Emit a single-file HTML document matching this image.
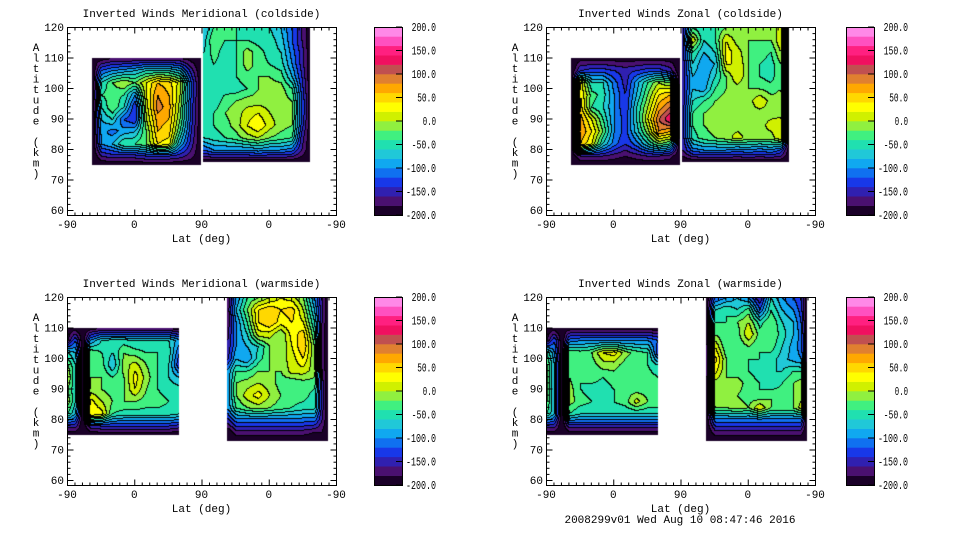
<!DOCTYPE html>
<html><head><meta charset="utf-8"><style>
body{margin:0;background:#fff;width:960px;height:540px;overflow:hidden;position:relative;font-family:"Liberation Mono",monospace;}
canvas{position:absolute;}
svg{position:absolute;left:0;top:0;}
</style></head><body>
<div id="root"></div>
<svg id="svg" width="960" height="540"></svg>
<script>
// ---- data ----
const levelColors = ["#1a0028","#4a1070","#3020b0","#1838e8","#1070f0","#10a8f0","#20c8d8","#20e0b0","#40f080","#90f040","#d0f000","#ffff00","#ffd800","#ffa800","#e08030","#c05050","#f01060","#ff2080","#ff50c0","#ff88e8"];
const colorbarLabels = ["200.0","150.0","100.0","50.0","0.0","-50.0","-100.0","-150.0","-200.0"];
const xTickLabels = ["-90","0","90","0","-90"];
const yTickLabels = ["120","110","100","90","80","70","60"];
const panelTitles = ["Inverted Winds Meridional (coldside)","Inverted Winds Zonal (coldside)","Inverted Winds Meridional (warmside)","Inverted Winds Zonal (warmside)"];

const p1LeftCols = [33,45,60,75,90,105,120,135,150,165,178];
const p1LeftAlts = [110,106,102,98,94,90,86,82,78,75];
const p1LeftVals = [
[-200,-190,-180,-180,-180,-180,-180,-180,-180,-190,-200],
[-200,-120,-100,-90,-80,-60,-60,-60,-80,-150,-200],
[-200,-60,-20,0,-20,20,60,50,10,-120,-200],
[-200,-40,-30,-40,-100,20,80,60,0,-120,-200],
[-200,-60,-20,-60,-140,10,90,70,-10,-130,-200],
[-200,-80,-60,-120,-140,0,70,60,-20,-130,-200],
[-200,-90,-110,-90,-80,-20,60,50,-40,-140,-200],
[-200,-100,-80,-40,-40,-20,40,30,-80,-150,-200],
[-200,-160,-150,-150,-150,-140,-140,-140,-150,-170,-200],
[-200,-200,-200,-200,-200,-200,-200,-200,-200,-200,-200]];
const p1RightCols = [182,195,210,225,240,255,270,285,300,313,325];
const p1RightAlts = [120,116,112,108,104,100,96,92,88,84,80,76];
const p1RightVals = [
[-80,-40,-30,-40,-50,-60,-60,-80,-120,-160,-200],
[-70,-20,-40,-40,-40,-50,-50,-70,-120,-160,-200],
[-60,-30,-50,-40,-10,-30,-50,-60,-110,-150,-200],
[-60,-40,-50,-40,-10,-30,-40,-50,-100,-150,-200],
[-60,-40,-50,-40,-30,-20,-20,-30,-80,-140,-200],
[-50,-50,-50,-50,-40,-20,-10,-10,-40,-130,-200],
[-50,-60,-30,-20,-10,-10,-10,-10,-20,-120,-200],
[-60,-40,-20,-10,10,20,0,-10,-20,-120,-200],
[-60,-40,-30,-10,20,40,10,-10,-20,-130,-200],
[-60,-50,-40,-30,-10,0,-20,-30,-40,-150,-200],
[-120,-100,-100,-100,-100,-90,-100,-100,-110,-160,-200],
[-200,-200,-200,-200,-200,-200,-200,-200,-200,-200,-200]];

const p2LeftVals = [
[-200,-190,-190,-190,-190,-190,-190,-190,-190,-190,-200],
[-200,-140,-130,-130,-140,-150,-140,-130,-130,-150,-200],
[-200,30,-60,-60,-110,-150,-90,-40,0,-20,-200],
[-200,40,-30,-50,-100,-140,-80,-20,40,60,-200],
[-200,50,-40,-60,-100,-140,-60,0,70,100,-200],
[-200,70,20,-40,-100,-130,-60,20,100,140,-200],
[-200,80,40,-20,-100,-130,-70,-10,80,60,-200],
[-200,60,20,-60,-110,-140,-110,-60,-20,-40,-200],
[-200,-160,-160,-160,-170,-180,-170,-160,-160,-170,-200],
[-200,-200,-200,-200,-200,-200,-200,-200,-200,-200,-200]];
const p2RightVals = [
[-150,-40,-60,-40,-20,-20,-20,-20,-20,20,-200],
[-150,20,-60,-40,20,-10,-20,-20,-20,20,-200],
[-150,-40,-80,-60,30,10,-20,-30,-40,0,-200],
[-150,-60,-100,-80,20,20,-20,-40,-50,-20,-200],
[-150,-80,-100,-60,-20,20,-20,-40,-50,-20,-200],
[-150,-80,-90,-40,-20,-10,-20,-20,-30,-20,-200],
[-150,-60,-40,-20,-10,-10,-10,20,-10,-10,-200],
[-150,-40,-20,-10,0,-10,-10,-10,-10,-10,-200],
[-150,-40,-20,-10,-10,-10,-10,-10,10,20,-200],
[-150,-50,-30,-20,-10,10,-10,-10,-10,20,-200],
[-160,-110,-100,-100,-100,-110,-100,-110,-100,-120,-200],
[-200,-200,-200,-200,-200,-200,-200,-200,-200,-200,-200]];

const wLeftCols = [0,10,20,30,45,60,75,90,105,120,135,149];
const wLeftAlts = [110,106,102,98,94,90,86,82,78,75];
const p3LeftVals = [
[-200,-190,-200,-190,-180,-180,-180,-180,-180,-180,-180,-190],
[-180,-120,-200,-100,-60,-50,-50,-60,-60,-60,-60,-90],
[-60,-80,-200,-20,-40,-60,-20,-30,-40,-40,-50,-120],
[-20,-60,-200,-20,-30,-80,-10,10,-20,-40,-60,-140],
[0,-60,-200,-20,-20,-40,-20,30,-10,-40,-60,-80],
[-20,-60,-200,-10,-20,-30,-20,20,-20,-40,-50,-50],
[-10,-60,-200,30,0,-20,-20,-20,-30,-30,-40,-40],
[-40,-80,-200,40,30,-40,-50,-50,-50,-50,-50,-60],
[-150,-150,-200,-150,-140,-140,-140,-140,-140,-140,-140,-150],
[-200,-200,-200,-200,-200,-200,-200,-200,-200,-200,-200,-200]];
const wRightCols = [213,225,240,255,270,285,300,315,330,340,348];
const wRightAlts = [120,116,112,108,104,100,96,92,88,84,80,76,73];
const p3RightVals = [
[-180,-100,-40,-20,0,20,10,-20,-100,-160,-200],
[-180,-80,-20,40,60,40,50,0,-80,-160,-200],
[-180,-100,-40,40,60,30,40,20,-60,-160,-200],
[-170,-100,-60,10,10,-20,30,50,-40,-170,-200],
[-160,-100,-80,-60,-20,-20,20,60,-20,-170,-200],
[-150,-80,-100,-50,-20,-10,10,40,-20,-170,-200],
[-100,-40,-40,-20,-20,-20,10,10,-10,-160,-200],
[-100,-20,-10,0,-10,-30,-40,-30,-30,-150,-200],
[-100,-20,10,30,0,-20,-30,-30,-50,-150,-200],
[-100,-40,-20,-10,-20,-30,-40,-50,-50,-150,-200],
[-150,-110,-110,-110,-110,-110,-110,-110,-110,-160,-200],
[-200,-170,-170,-170,-170,-170,-170,-170,-180,-180,-200],
[-200,-200,-200,-200,-200,-200,-200,-200,-200,-200,-200]];
const p4LeftVals = [
[-200,-190,-200,-190,-190,-190,-190,-190,-190,-190,-190,-190],
[-180,-120,-200,-110,-100,-100,-100,-100,-100,-100,-100,-120],
[-40,-100,-200,-20,-30,-20,20,30,-10,-30,-40,-140],
[-20,-80,-200,-20,-30,-30,-10,-10,-30,-40,-40,-60],
[-20,-80,-200,-20,-40,-30,-40,-30,-40,-40,-30,-40],
[-20,-80,-200,-10,-40,-50,-50,-40,-30,-30,-30,-30],
[-20,-80,-200,-10,-30,-40,-40,-40,-30,10,-20,-20],
[-40,-80,-200,-40,-60,-60,-60,-60,-60,-60,-60,-60],
[-150,-150,-200,-150,-150,-150,-150,-150,-150,-150,-150,-150],
[-200,-200,-200,-200,-200,-200,-200,-200,-200,-200,-200,-200]];
const p4RightVals = [
[-200,-120,-100,-80,-100,-160,-60,-100,-120,-140,-200],
[-200,-60,-40,-60,-30,-120,-40,-80,-100,-130,-200],
[-200,-40,-40,-20,0,-50,-20,-60,-80,-120,-200],
[-200,-20,-40,-30,20,-30,-20,-50,-80,-110,-200],
[-200,20,-40,-40,-20,-40,-30,-60,-90,-110,-200],
[-200,50,-20,-30,-40,-40,-50,-70,-90,-100,-200],
[-200,30,-20,-30,-40,-50,-60,-60,-40,-40,-200],
[-200,-10,-20,-10,-30,-40,-60,-40,-20,-10,-200],
[-200,0,-10,-20,-30,-40,-20,-30,-20,-10,-200],
[-200,-20,-20,-10,-20,20,-20,-20,-20,10,-200],
[-200,-110,-110,-110,-110,-110,-110,-110,-110,-110,-200],
[-200,-170,-170,-170,-170,-170,-170,-170,-170,-170,-200],
[-200,-200,-200,-200,-200,-200,-200,-200,-200,-200,-200]];

const panels = [
 {x0:67,y0:27,cb:374,blocks:[[p1LeftCols,p1LeftAlts,p1LeftVals],[p1RightCols,p1RightAlts,p1RightVals]]},
 {x0:546,y0:27,cb:846,blocks:[[p1LeftCols,p1LeftAlts,p2LeftVals],[p1RightCols,p1RightAlts,p2RightVals]]},
 {x0:67,y0:297,cb:374,blocks:[[wLeftCols,wLeftAlts,p3LeftVals],[wRightCols,wRightAlts,p3RightVals]]},
 {x0:546,y0:297,cb:846,blocks:[[wLeftCols,wLeftAlts,p4LeftVals],[wRightCols,wRightAlts,p4RightVals]]}
];
const PW=269, PH=188, PXKM=3.05;
const NS="http://www.w3.org/2000/svg";
const svg=document.getElementById('svg');
function el(tag,attrs,parent){const e=document.createElementNS(NS,tag);for(const k in attrs)e.setAttribute(k,attrs[k]);(parent||svg).appendChild(e);return e;}
function interp(cols,alts,vals,u,a){
 if(u<cols[0]||u>cols[cols.length-1]||a>alts[0]||a<alts[alts.length-1])return null;
 let i=0;while(i<cols.length-2&&u>cols[i+1])i++;
 let j=0;while(j<alts.length-2&&a<alts[j+1])j++;
 const tx=(u-cols[i])/(cols[i+1]-cols[i]), ty=(alts[j]-a)/(alts[j]-alts[j+1]);
 const v00=vals[j][i],v10=vals[j][i+1],v01=vals[j+1][i],v11=vals[j+1][i+1];
 return (v00*(1-tx)+v10*tx)*(1-ty)+(v01*(1-tx)+v11*tx)*ty;
}
function hex(c){return [parseInt(c.substr(1,2),16),parseInt(c.substr(3,2),16),parseInt(c.substr(5,2),16)];}
const rgb=levelColors.map(hex);
panels.forEach((p,pi)=>{
 const cv=document.createElement('canvas');cv.width=PW;cv.height=PH;
 cv.style.left=p.x0+'px';cv.style.top=p.y0+'px';
 
 
 document.body.insertBefore(cv,svg);
 const ctx=cv.getContext('2d');const img=ctx.createImageData(PW,PH);
 const lev=new Int16Array(PW*PH).fill(-1);
 for(let y=0;y<PH;y++)for(let x=0;x<PW;x++){
  const u=x*360/PW, a=120-y/PXKM;
  let v=null;for(const b of p.blocks){const r=interp(b[0],b[1],b[2],u,a);if(r!==null){v=r;break;}}
  if(v!==null)lev[y*PW+x]=Math.max(0,Math.min(19,Math.floor((v+200)/20)));
 }
 for(let y=0;y<PH;y++)for(let x=0;x<PW;x++){
  const k=y*PW+x,l=lev[k],o=k*4;let c=[255,255,255];
  if(l>=0){c=rgb[l];
   if((x>0&&lev[k-1]>=0&&lev[k-1]!==l)||(y>0&&lev[k-PW]>=0&&lev[k-PW]!==l))c=[0,0,0];}
  img.data[o]=c[0];img.data[o+1]=c[1];img.data[o+2]=c[2];img.data[o+3]=255;
 }
 ctx.putImageData(img,0,0);
 const g=el('g',{});
 el('rect',{x:p.x0+0.5,y:p.y0+0.5,width:PW,height:PH,fill:'none',stroke:'#000',},g);
 const t=el('text',{x:p.x0+PW/2,y:p.y0-10,'font-size':11,'text-anchor':'middle',},g);
 t.textContent=panelTitles[pi];
 for(let d=0;d<=360;d+=10){const xx=p.x0+0.5+d*PW/360;const len=d%90===0?6:3;
  el('line',{x1:xx,y1:p.y0+PH+0.5,x2:xx,y2:p.y0+PH+0.5-len,stroke:'#000'},g);
  el('line',{x1:xx,y1:p.y0+0.5,x2:xx,y2:p.y0+0.5+len,stroke:'#000'},g);}
 xTickLabels.forEach((s,i)=>{const tt=el('text',{x:p.x0+i*PW/4,y:p.y0+PH+13,'font-size':11,'text-anchor':'middle',},g);tt.textContent=s;});
 const xl=el('text',{x:p.x0+PW/2,y:p.y0+PH+27,'font-size':11,'text-anchor':'middle',},g);xl.textContent='Lat (deg)';
 for(let a=60;a<=120;a+=2){const yy=p.y0+0.5+(120-a)*PXKM;const len=a%10===0?6:3;
  el('line',{x1:p.x0+0.5,y1:yy,x2:p.x0+0.5+len,y2:yy,stroke:'#000'},g);
  el('line',{x1:p.x0+PW+0.5,y1:yy,x2:p.x0+PW+0.5-len,y2:yy,stroke:'#000'},g);}
 yTickLabels.forEach((s,i)=>{const tt=el('text',{x:p.x0-3,y:p.y0+i*10*PXKM+4,'font-size':11,'text-anchor':'end',},g);tt.textContent=s;});
 const yt="Altitude (km)";
 for(let i=0;i<yt.length;i++){const tt=el('text',{x:p.x0-31,y:p.y0+24+i*10.5,'font-size':11,'text-anchor':'middle',},g);tt.textContent=yt[i];}
 const cg=el('g',{});
 const bh=PH/20;
 levelColors.forEach((c,i)=>{el('rect',{x:p.cb,y:p.y0+PH-(i+1)*bh,width:28,height:bh+0.3,fill:c,},cg);});
 el('rect',{x:p.cb+0.5,y:p.y0+0.5,width:28,height:PH,fill:'none',stroke:'#000'},cg);
 colorbarLabels.forEach((s,i)=>{const yy=p.y0+i*PH/8;
  el('line',{x1:p.cb+22,y1:yy,x2:p.cb+28,y2:yy,stroke:'#000'},cg);
  const w=(s.length-1)*5.6+2;
  const tt=el('text',{x:p.cb+62-w,y:yy+4,'font-size':12,textLength:w,lengthAdjust:'spacingAndGlyphs',},cg);tt.textContent=s;});
});
const ft=el('text',{x:680,y:523,'font-size':11,'text-anchor':'middle',});
ft.textContent='2008299v01 Wed Aug 10 08:47:46 2016';
</script>
</body></html>
